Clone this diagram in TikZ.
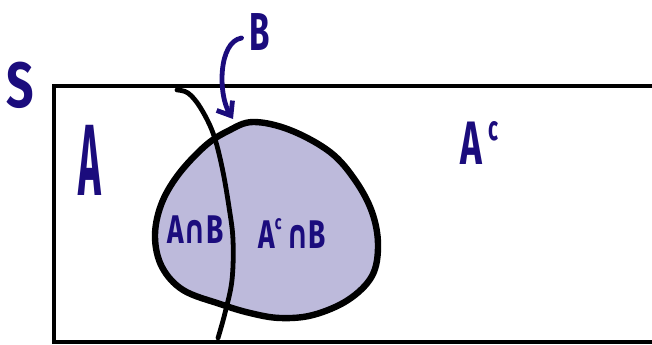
\documentclass[tikz,border=0pt]{standalone}
\usepackage{fontspec}
\setsansfont{Fira Sans}
\newfontfamily\symf{DejaVu Sans}
\usetikzlibrary{arrows.meta}
\definecolor{navy}{HTML}{1B0C7D}
\definecolor{blobfill}{HTML}{BDBADB}
\tikzset{
  lbl/.style={text=navy, inner sep=0pt, font=\sffamily\bfseries},
  blobline/.style={line width=4.8pt, black, line join=round},
  frameline/.style={line width=3pt, black},
  divline/.style={line width=3.6pt, black, line cap=round},
  pointer/.style={line width=3.6pt, navy, line cap=round, -{Straight Barb[length=9pt,width=14pt,line width=3.6pt]}},
}
\newcommand{\supc}[2]{\raisebox{#1}{\fontsize{#2}{#2}\selectfont c}}
\begin{document}
\begin{tikzpicture}[x=0.75pt,y=-0.75pt]
\useasboundingbox (0,0) rectangle (652,345);
% sample space frame (open at right, runs off the picture)
\coordinate (fr1) at (660,86);
\coordinate (fr2) at (54,86);
\coordinate (fr3) at (54,342);
\coordinate (fr4) at (660,342);
\draw[frameline] (fr1) -- (fr2) -- (fr3) -- (fr4);
% blob B
\draw[blobline, fill=blobfill] plot[smooth cycle, tension=0.6] coordinates {
 (253,122) (290,130) (330,152) (355,180) (372,212) (378,245) (372,276)
 (348,300) (313,315) (280,318) (250,313) (220,304) (183,290) (162,267)
 (155,237) (161,205) (178,175) (205,146) (228,131)};
% boundary of A
\draw[divline] plot[smooth, tension=0.6] coordinates {
 (177,90) (188,93) (200,107) (213,133) (222,167) (229,207) (233,240)
 (232,280) (225,313) (218,338)};
% labels
\node[lbl, font=\sffamily\bfseries\fontsize{48}{48}\selectfont] (S) at (20,85) {\scalebox{0.75}[1]{S}};
\node[lbl, font=\sffamily\bfseries\fontsize{40}{40}\selectfont] (B) at (260,32) {\scalebox{0.62}[1]{B}};
\node[lbl, font=\sffamily\bfseries\fontsize{76}{76}\selectfont] (A) at (90,160) {\scalebox{0.38}[1]{A}};
\node[lbl, font=\sffamily\bfseries\fontsize{46}{46}\selectfont, anchor=base west] (Ac) at (460,165) {\scalebox{0.6}[1]{A\,\supc{18pt}{26}}};
\node[lbl, font=\sffamily\bfseries\fontsize{30}{30}\selectfont, anchor=base west] (AB) at (167,243) {\scalebox{0.7}[1]{A{\symf\bfseries ∩}B}};
\node[lbl, font=\sffamily\bfseries\fontsize{30}{30}\selectfont, anchor=base west] (AcB) at (258,248) {\scalebox{0.7}[1]{A\supc{14pt}{15}\,{\symf\bfseries ∩}B}};
% pointer from B label to the blob
\coordinate (ptip) at (233,119);
\draw[pointer] (B.west) ++(-8,6) .. controls (218,42) and (218,95) .. (ptip);
\end{tikzpicture}
\end{document}
